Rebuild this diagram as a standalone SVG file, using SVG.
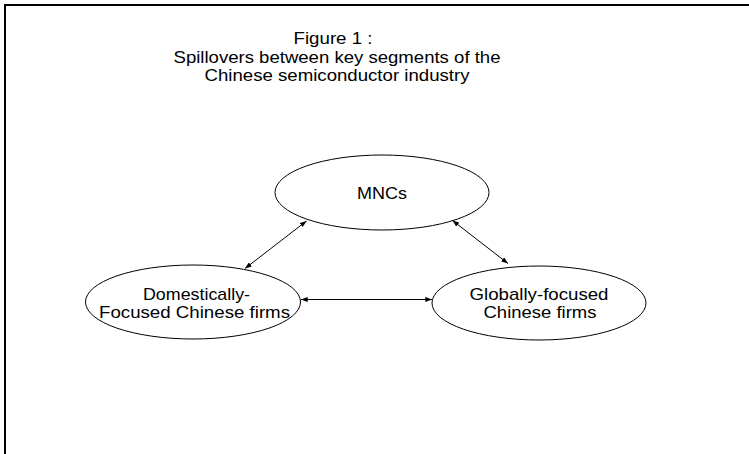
<svg xmlns="http://www.w3.org/2000/svg" width="749" height="454" viewBox="0 0 749 454">
<style>
text{font-family:"Liberation Sans",Arial,sans-serif;fill:#000;text-anchor:middle;font-size:17px}
.node ellipse{fill:#fff;stroke:#000;stroke-width:1}
.conn line{stroke:#000;stroke-width:1;marker-start:url(#ah);marker-end:url(#ah)}
</style>
<defs>
<marker id="ah" viewBox="0 0 8 6" refX="8" refY="3" markerWidth="7" markerHeight="5" markerUnits="userSpaceOnUse" orient="auto-start-reverse">
<path d="M0,0 L8,3 L0,6 Z" fill="#000"/>
</marker>
</defs>
<rect width="749" height="454" fill="#fff"/>
<g id="frame">
<path d="M5,454 V5 H749" fill="none" stroke="#000" stroke-width="2"/>
</g>
<g id="title">
<text x="333" y="44" textLength="79" lengthAdjust="spacingAndGlyphs">Figure 1 :</text>
<text x="337" y="62.5" textLength="327" lengthAdjust="spacingAndGlyphs">Spillovers between key segments of the</text>
<text x="337" y="81" textLength="265" lengthAdjust="spacingAndGlyphs">Chinese semiconductor industry</text>
</g>
<g id="mncs" class="node">
<ellipse cx="382" cy="192.5" rx="107" ry="37.5"/>
<text x="382" y="199" textLength="50" lengthAdjust="spacingAndGlyphs">MNCs</text>
</g>
<g id="domestic" class="node">
<ellipse cx="193" cy="302" rx="107.5" ry="37"/>
<text x="196.5" y="300" textLength="107" lengthAdjust="spacingAndGlyphs">Domestically-</text>
<text x="194.5" y="317.5" textLength="191" lengthAdjust="spacingAndGlyphs">Focused Chinese firms</text>
</g>
<g id="global" class="node">
<ellipse cx="539" cy="303" rx="107" ry="37"/>
<text x="539" y="300" textLength="139" lengthAdjust="spacingAndGlyphs">Globally-focused</text>
<text x="540" y="317.5" textLength="113" lengthAdjust="spacingAndGlyphs">Chinese firms</text>
</g>
<g id="connectors" class="conn">
<line x1="306.5" y1="221" x2="245" y2="268.5"/>
<line x1="452.5" y1="220.5" x2="508" y2="263.5"/>
<line x1="301" y1="299.5" x2="432" y2="299.5"/>
</g>
</svg>
